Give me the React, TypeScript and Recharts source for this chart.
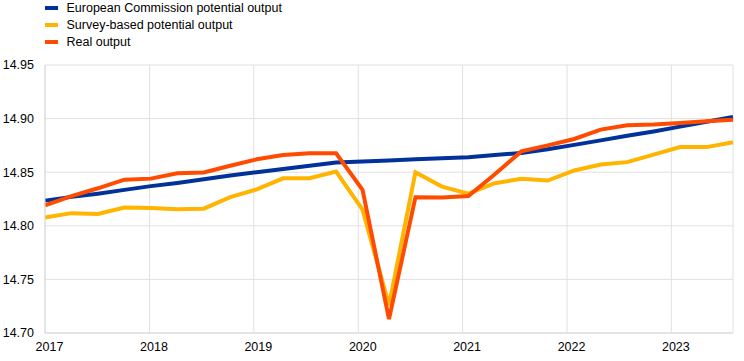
import React from 'react';
import { LineChart, Line, XAxis, YAxis, CartesianGrid } from 'recharts';

// quarterly observations, 2017Q1 .. 2023Q3 (log levels)
const quarters = Array.from({ length: 27 }, (_, i) => i);

const ecPotential = [
  14.8235, 14.827, 14.830, 14.8335, 14.837, 14.840, 14.8435, 14.847, 14.850,
  14.853, 14.856, 14.859, 14.860, 14.861, 14.862, 14.863, 14.864, 14.866,
  14.868, 14.8715, 14.8755, 14.8797, 14.884, 14.888, 14.8925, 14.897, 14.9015,
];

const surveyPotential = [
  14.8077, 14.8118, 14.811, 14.817, 14.8165, 14.8155, 14.816, 14.8267, 14.834,
  14.8443, 14.8443, 14.8506, 14.815, 14.7258, 14.850, 14.8366, 14.830, 14.8397,
  14.8438, 14.8422, 14.8516, 14.8572, 14.8594, 14.8664, 14.8734, 14.8734, 14.878,
];

const realOutput = [
  14.819, 14.8277, 14.835, 14.843, 14.844, 14.849, 14.8497, 14.856, 14.862,
  14.866, 14.8677, 14.8677, 14.8335, 14.713, 14.8267, 14.8264, 14.8278, 14.848,
  14.8694, 14.875, 14.881, 14.8897, 14.8937, 14.8944, 14.8959, 14.8975, 14.899,
];

const yearLabels = ['2017', '2018', '2019', '2020', '2021', '2022', '2023'];
// where each year starts, measured in quarters from the first observation
const yearTickPos = [0, 3.95, 7.89, 11.84, 15.78, 19.73, 23.67];
const yTicks = [14.7, 14.75, 14.8, 14.85, 14.9, 14.95];

const series = [
  { key: 'ec', name: 'European Commission potential output', color: '#003299' },
  { key: 'survey', name: 'Survey-based potential output', color: '#ffb400' },
  { key: 'real', name: 'Real output', color: '#ff4b00' },
];

const FONT = '"Liberation Sans", Arial, sans-serif';
const GRID = '#e1e1e1';

const data = quarters.map((q, i) => ({
  q,
  ec: ecPotential[i],
  survey: surveyPotential[i],
  real: realOutput[i],
}));

const yearFor = (v: number) => {
  const idx = yearTickPos.indexOf(v);
  return idx >= 0 ? yearLabels[idx] : '';
};

export default function App() {
  return (
    <div style={{ position: 'fixed', left: 0, top: 0, width: 744, height: 361, background: '#fff', fontFamily: FONT }}>
      <div style={{ position: 'absolute', left: 45, top: 0, zIndex: 2 }}>
        {series.map((s, i) => (
          <div
            key={s.key}
            style={{ position: 'absolute', top: i * 16.8, left: 0, height: 16, display: 'flex', alignItems: 'center', whiteSpace: 'nowrap' }}
          >
            <span style={{ display: 'inline-block', width: 13, height: 4, background: s.color }} />
            <span style={{ marginLeft: 8.5, fontSize: 12.5, color: '#000' }}>{s.name}</span>
          </div>
        ))}
      </div>
      <LineChart width={744} height={361} data={data} margin={{ top: 65, right: 11, bottom: 0, left: 0 }}>
        <CartesianGrid stroke={GRID} strokeWidth={1} horizontal vertical />
        <XAxis
          dataKey="q"
          type="number"
          domain={[0, 26]}
          ticks={yearTickPos}
          interval={0}
          tickFormatter={yearFor}
          height={28}
          tickLine={false}
          tickSize={0}
          tickMargin={9}
          axisLine={{ stroke: '#d9d9d9' }}
          tick={{ fill: '#000', fontSize: 12.5, fontFamily: FONT, dx: 4.5 }}
        />
        <YAxis
          type="number"
          domain={[14.7, 14.95]}
          ticks={yTicks}
          interval={0}
          width={45}
          tickFormatter={(v: number) => v.toFixed(2)}
          tickLine={false}
          tickSize={0}
          tickMargin={11}
          axisLine={{ stroke: '#d9d9d9' }}
          tick={{ fill: '#000', fontSize: 12.5, fontFamily: FONT }}
        />
        {series.map((s) => (
          <Line
            key={s.key}
            type="linear"
            dataKey={s.key}
            name={s.name}
            stroke={s.color}
            strokeWidth={4}
            dot={false}
            activeDot={false}
            isAnimationActive={false}
          />
        ))}
      </LineChart>
    </div>
  );
}
